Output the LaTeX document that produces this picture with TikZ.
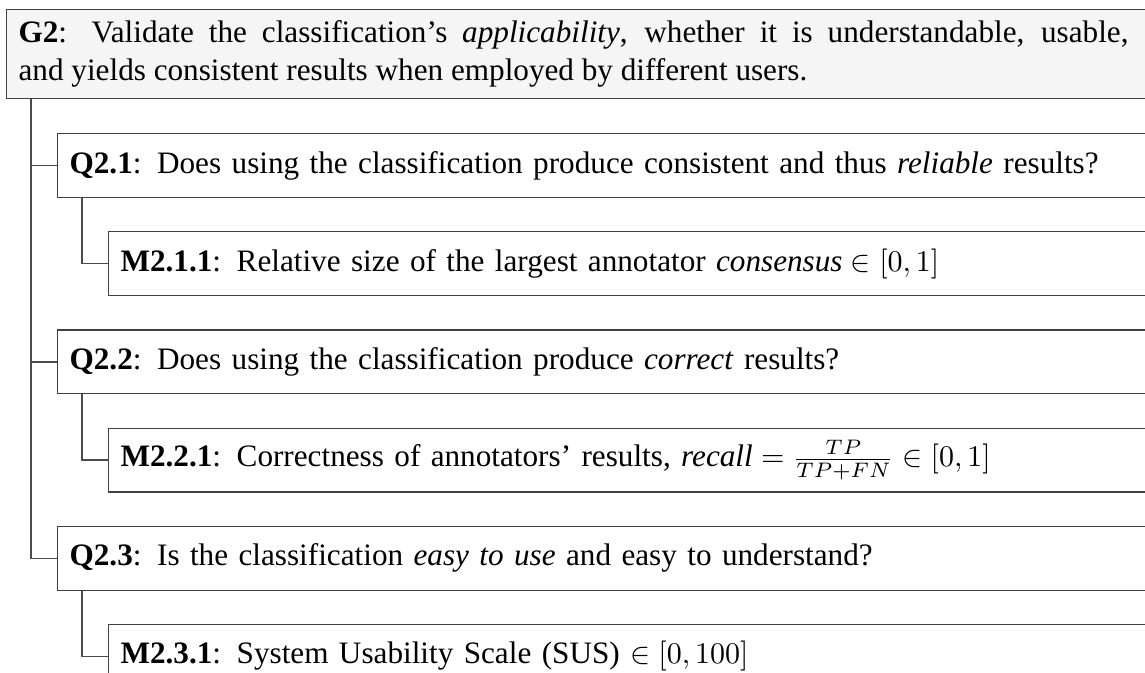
\documentclass[tikz,border=0pt]{standalone}
\usepackage{amsmath,amssymb}
\usepackage{fontspec}
\setmainfont{Liberation Serif}
\usepackage{xcolor}
\usetikzlibrary{positioning}

\begin{document}
\begin{tikzpicture}[
    font=\fontsize{10.4}{12.67}\selectfont,
    box/.style={rectangle, draw=black!75, line width=0.4pt, anchor=north west, inner xsep=4pt, text width=370pt, align=left, minimum height=21.3pt},
    goal/.style={box, fill=black!4, text width=390pt, align=justify, minimum height=29.7pt},
    link/.style={draw, black!70, line width=0.4pt}
]
    \useasboundingbox (0,0) rectangle (381.67pt,-224.33pt);

    \node [goal] (g2) at (2pt,-3pt) {\parbox{370pt}{\textbf{G2}: Validate the classification’s \textit{applicability}, whether it is understandable, usable,\linebreak and yields consistent results when employed by different users.}};

    \node [box] (q21) at ([xshift=17pt, yshift=-11.3pt]g2.south west) {\textbf{Q2.1}: Does using the classification produce consistent and thus \textit{reliable} results?};
    \node [box] (m211) at ([xshift=17pt, yshift=-11pt]q21.south west) {\textbf{M2.1.1}: Relative size of the largest annotator $\textit{consensus} \in [0, 1]$};
    \node [box] (q22) at ([xshift=-17pt, yshift=-11pt]m211.south west) {\textbf{Q2.2}: Does using the classification produce \textit{correct} results?};
    \node [box] (m221) at ([xshift=17pt, yshift=-11pt]q22.south west) {\textbf{M2.2.1}: Correctness of annotators’ results, $\textit{recall} = \frac{TP}{TP+FN} \in [0, 1]$};
    \node [box] (q23) at ([xshift=-17pt, yshift=-11pt]m221.south west) {\textbf{Q2.3}: Is the classification \textit{easy to use} and easy to understand?};
    \node [box] (m231) at ([xshift=17pt, yshift=-11pt]q23.south west) {\textbf{M2.3.1}: System Usability Scale (SUS) $\in [0, 100]$};

    \path [link] ([xshift=8.33pt]g2.south west) |- (q21.west);
    \path [link] ([xshift=8.33pt]g2.south west) |- (q22.west);
    \path [link] ([xshift=8.33pt]g2.south west) |- (q23.west);
    \path [link] ([xshift=8.33pt]q21.south west) |- (m211.west);
    \path [link] ([xshift=8.33pt]q22.south west) |- (m221.west);
    \path [link] ([xshift=8.33pt]q23.south west) |- (m231.west);
\end{tikzpicture}
\end{document}
